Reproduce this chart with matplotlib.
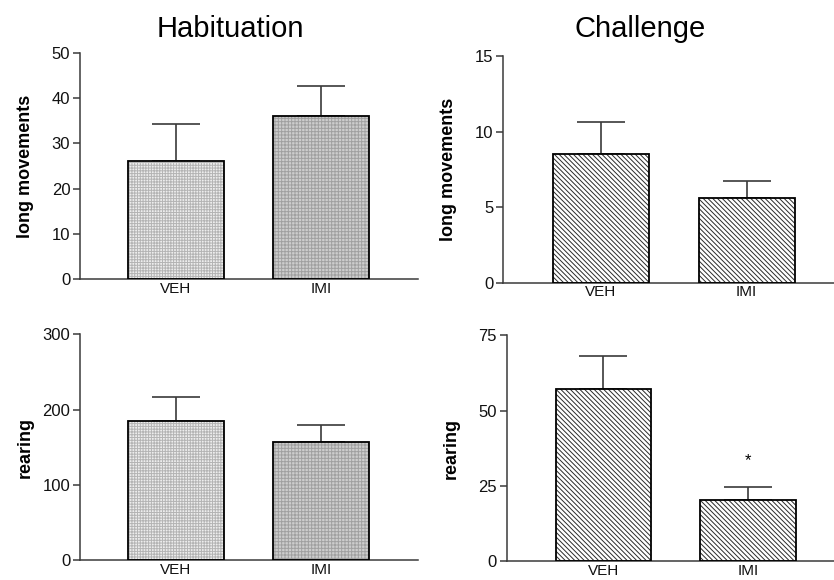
import matplotlib
matplotlib.use("Agg")
import matplotlib.pyplot as plt
import numpy as np

plt.rcParams['font.family'] = ['Liberation Sans', 'DejaVu Sans']
plt.rcParams['hatch.linewidth'] = 0.7

groups = ["VEH", "IMI"]
titles = ["Habituation", "Challenge"]

hab_long = [26.1, 36.1]
hab_long_err = [8.1, 6.7]
hab_rear = [185.0, 157.0]
hab_rear_err = [31.0, 22.0]

chal_long = [8.5, 5.6]
chal_long_err = [2.1, 1.1]
chal_rear = [57.3, 20.2]
chal_rear_err = [10.7, 4.4]

panels = [
    ([80/834, 1-279/580, 338/834, 226/580], hab_long, hab_long_err, (0, 50), [0, 10, 20, 30, 40, 50],
     "long movements", "hab", (-0.662, 1.669)),
    ([503.3/834, 1-282.7/580, 330.7/834, 226.7/580], chal_long, chal_long_err, (0, 15), [0, 5, 10, 15],
     "long movements", "chal", (-0.67, 1.6)),
    ([80/834, 1-560/580, 338/834, 225.7/580], hab_rear, hab_rear_err, (0, 300), [0, 100, 200, 300],
     "rearing", "hab", (-0.662, 1.669)),
    ([506.7/834, 1-561.3/580, 327.3/834, 226/580], chal_rear, chal_rear_err, (0, 75), [0, 25, 50, 75],
     "rearing", "chal", (-0.668, 1.594)),
]

fig = plt.figure(figsize=(8.34, 5.8), dpi=100)
spine_col = "#3a3a3a"
x = np.arange(len(groups))
width = 0.66
diag = "\\" * 7

for i, (rect, vals, errs, ylim, yticks, ylabel, style, xlim) in enumerate(panels):
    ax = fig.add_axes(rect)
    if style == "hab":
        fills = [("#ededed", "#b4b4b4", "++++++"), ("#cdcdcd", "#a0a0a0", "+++++")]
    else:
        fills = [("white", "#2a2a2a", diag), ("white", "#2a2a2a", diag)]
    for j in range(len(groups)):
        fc, hc, h = fills[j]
        ax.bar(x[j], vals[j], width=width, color=fc, edgecolor=hc, hatch=h, linewidth=0, zorder=2)
    ax.bar(x, vals, width=width, fill=False, edgecolor="black", linewidth=1.3, zorder=3)
    ax.errorbar(x, vals, yerr=[np.zeros(len(vals)), errs], fmt="none", ecolor=spine_col,
                elinewidth=1.2, capsize=17.5, capthick=1.2, zorder=1)
    ax.set_xlim(*xlim)
    ax.set_ylim(*ylim)
    ax.set_yticks(yticks)
    ax.set_xticks(x)
    ax.set_xticklabels(groups, fontsize=11)
    ax.tick_params(axis="x", length=0, pad=2, colors="#111111")
    ax.tick_params(axis="y", length=5, width=1.1, pad=2, labelsize=12, colors=spine_col,
                   labelcolor="#111111")
    for s in ["top", "right"]:
        ax.spines[s].set_visible(False)
    for s in ["left", "bottom"]:
        ax.spines[s].set_color(spine_col)
        ax.spines[s].set_linewidth(1.1)
    ax.set_ylabel(ylabel, fontsize=13, fontweight="bold", va="center")
    ax.yaxis.set_label_coords(-55 / (rect[2]*834), 0.5)
    if i == 3:
        ax.text(x[1], 33.5, "*", ha="center", va="center", fontsize=12)

fig.text(230/834, 1-29/580, titles[0], ha="center", va="center", fontsize=21)
fig.text(640/834, 1-29/580, titles[1], ha="center", va="center", fontsize=21)

fig.savefig("out.png", dpi=100, facecolor="white")
